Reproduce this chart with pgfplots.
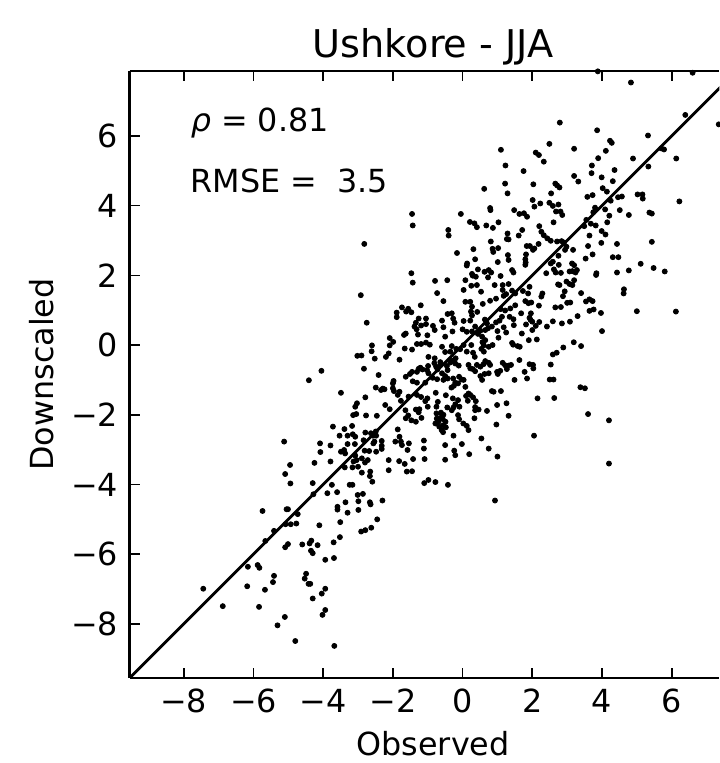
\documentclass[border=0pt]{standalone}
\usepackage{pgfplots}
\pgfplotsset{compat=1.18}
\usepackage{fontspec}
\setmainfont{DejaVu Sans}
\newcommand{\tfont}{\fontsize{15.9pt}{18pt}\selectfont}
\newcommand{\ttfont}{\fontsize{19.1pt}{22pt}\selectfont}
\begin{document}
\begin{tikzpicture}
\begin{axis}[
  at={(0,0)}, anchor=south west,
  scale only axis, width=294.8pt, height=303.4pt,
  xmin=-9.55, xmax=7.37, ymin=-9.55, ymax=7.86,
  every non boxed x axis/.style={},
  every non boxed y axis/.style={},
  axis x line*=box, axis y line*=left,
  axis line style={line width=1.3pt, -},
  x axis line style={-}, y axis line style={-},
  tick align=inside, xtick pos=both, ytick pos=left,
  major tick length=5pt,
  every tick/.style={black, line width=0.8pt},
  xtick={-8,-6,-4,-2,0,2,4,6},
  xticklabels={−8,−6,−4,−2,0,2,4,6},
  ytick={-8,-6,-4,-2,0,2,4,6},
  yticklabels={−8,−6,−4,−2,0,2,4,6},
  xticklabel style={font=\tfont, anchor=base, inner sep=0pt, yshift=-17.3pt},
  yticklabel style={font=\tfont, anchor=east, inner sep=0pt, xshift=-5.6pt},
]
\addplot[only marks, mark=*, mark size=1.25pt, black] table {
x y
1.10 5.60
1.23 5.15
1.22 4.63
0.62 4.48
1.29 4.35
0.79 3.93
0.80 3.87
1.48 3.87
1.63 3.76
-1.45 3.76
-1.43 3.43
-0.05 3.76
-2.82 2.90
0.21 3.53
0.34 3.49
0.41 3.38
0.68 3.43
0.87 3.36
1.03 3.52
-0.41 3.30
-0.40 3.14
1.29 3.20
1.27 3.04
1.32 3.03
1.61 3.14
0.81 2.97
0.86 2.76
0.88 2.67
1.02 2.78
-0.16 2.64
0.31 2.75
1.30 2.58
1.32 2.44
1.01 2.38
0.36 2.46
0.13 2.34
0.12 2.28
0.44 2.17
0.63 2.10
0.75 2.15
0.82 2.08
1.42 2.15
1.46 2.08
0.27 2.04
-1.47 2.06
3.88 7.85
6.60 7.81
4.83 7.53
2.79 6.38
6.39 6.60
7.35 6.33
3.86 6.16
5.32 6.01
4.23 5.86
4.28 5.80
2.49 5.77
3.20 5.63
2.10 5.52
2.19 5.45
4.11 5.57
5.70 5.64
5.78 5.61
2.33 5.26
3.89 5.36
4.89 5.35
6.13 5.35
1.75 4.99
3.71 5.15
5.33 5.12
3.70 4.93
4.36 5.02
3.20 4.85
3.32 4.69
3.99 4.81
4.31 4.70
2.03 4.61
2.66 4.63
2.71 4.58
2.78 4.52
2.54 4.35
4.02 4.50
4.14 4.40
3.58 4.25
3.73 4.30
5.02 4.32
5.16 4.32
5.17 4.20
4.46 4.24
4.57 4.26
4.25 4.14
2.01 4.16
2.06 3.97
2.23 4.06
2.49 4.08
2.59 3.99
2.75 4.03
1.76 3.78
1.85 3.68
2.68 3.83
2.81 3.83
2.86 3.73
3.80 3.94
3.75 3.81
4.51 3.87
4.09 3.89
4.77 3.73
5.36 3.80
5.43 3.77
6.22 4.12
2.61 3.52
3.55 3.59
3.68 3.48
3.82 3.43
4.21 3.71
4.15 3.52
2.20 3.41
2.26 3.25
2.33 3.15
2.43 3.06
2.53 2.99
1.71 3.30
3.49 3.41
3.64 3.14
3.99 3.27
4.10 3.17
2.71 2.97
2.84 2.98
2.91 2.94
2.98 2.82
2.94 2.73
2.18 2.90
1.84 2.84
1.93 2.84
2.06 2.77
2.02 2.73
1.82 2.60
1.80 2.46
1.81 2.37
1.80 2.30
3.98 2.93
4.43 2.90
5.43 2.96
3.17 2.73
3.60 2.84
2.75 2.56
3.73 2.60
4.31 2.52
4.47 2.52
2.59 2.39
2.53 2.34
3.53 2.48
2.62 2.17
2.76 2.30
3.14 2.34
3.20 2.29
3.28 2.15
3.24 2.08
3.15 2.12
3.07 2.11
2.67 2.08
2.82 2.07
2.40 2.06
3.84 2.06
4.43 2.08
4.77 2.14
5.11 2.33
5.48 2.21
5.80 2.11
-1.43 1.79
0.29 1.99
0.38 1.96
1.09 1.98
-2.92 1.43
-0.79 1.84
-0.44 1.86
-0.73 1.49
0.08 1.86
0.25 1.70
0.41 1.72
0.53 1.53
0.73 1.94
0.92 1.72
1.15 1.72
1.32 1.75
1.15 1.58
1.42 1.56
1.51 1.48
0.03 1.58
-0.55 1.26
0.08 1.24
0.22 1.24
0.27 1.10
0.58 1.18
0.79 1.27
0.96 1.33
1.18 1.41
1.25 1.46
1.09 1.03
1.22 0.99
1.37 1.05
1.51 1.14
-1.74 1.08
-1.56 1.04
-1.20 1.14
-1.47 0.94
-1.89 0.93
-1.62 0.96
-1.89 0.80
-2.75 0.64
-1.26 0.76
-1.05 0.76
-0.59 0.70
-0.43 0.89
-0.31 0.91
-0.27 0.76
-0.23 0.64
0.03 0.69
0.27 0.85
0.42 0.95
0.24 0.96
0.22 0.70
0.64 0.73
0.70 0.62
0.96 0.65
1.06 0.70
1.13 0.81
1.35 0.81
1.46 0.74
-1.34 0.64
-1.38 0.53
-1.19 0.56
-1.05 0.60
-0.85 0.55
-0.80 0.43
-1.32 0.45
-1.28 0.30
-1.63 0.33
-1.68 0.29
-0.55 0.51
-0.50 0.24
-0.29 0.39
0.00 0.45
0.12 0.38
0.27 0.39
0.36 0.53
0.44 0.32
0.51 0.41
0.56 0.24
0.65 0.43
0.73 0.48
0.84 0.53
1.00 0.40
1.18 0.51
1.47 0.57
-2.09 0.20
-1.99 0.09
-2.09 -0.01
-2.60 -0.01
-2.61 -0.18
-3.02 -0.31
-2.90 -0.30
-2.83 -0.68
-2.52 -0.39
-2.20 -0.34
-2.12 -0.24
-1.81 -0.42
-1.66 -0.10
-1.45 -0.13
-1.31 0.03
-1.19 0.03
-1.05 0.07
-1.01 0.28
-0.94 0.01
-0.59 -0.05
-0.50 -0.20
-0.35 -0.19
-0.31 -0.03
-0.20 -0.38
-0.18 -0.11
-0.07 -0.12
0.03 0.00
0.25 0.00
0.12 -0.19
0.30 -0.22
0.35 -0.34
0.54 -0.11
0.61 -0.01
0.61 -0.19
0.65 0.14
0.57 0.08
0.75 -0.05
0.86 0.00
1.03 0.21
1.25 0.36
1.42 0.06
1.45 0.01
1.58 -0.03
1.63 -0.43
-0.98 -0.34
-0.80 -0.38
-0.81 -0.52
-0.99 -0.60
-0.76 -0.62
-0.63 -0.57
-0.45 -0.60
-0.64 -0.49
-0.35 -0.50
-0.29 -0.45
-0.21 -0.53
-0.11 -0.59
-0.43 -0.72
-0.50 -0.89
-0.59 -0.81
-0.72 -0.70
-1.02 -0.72
-1.21 -0.65
-1.31 -0.77
-1.26 -0.68
-1.15 -0.70
-1.45 -0.77
-1.51 -0.83
-1.63 -0.91
-1.43 -1.04
-1.31 -1.08
-1.07 -1.08
-0.98 -0.81
-0.86 -0.94
-0.73 -0.98
-0.43 -0.96
-0.55 -1.00
-0.27 -0.96
-0.10 -0.91
-0.02 -0.99
0.03 -1.00
-0.21 -1.08
-0.32 -1.22
-0.25 -1.17
-0.13 -1.10
0.08 -1.20
0.22 -0.67
0.17 -0.57
0.29 -0.69
0.41 -0.57
0.36 -0.75
0.51 -0.62
0.60 -0.55
0.65 -0.46
0.75 -0.51
0.79 -0.57
0.51 -0.89
0.56 -1.00
0.63 -0.83
0.75 -0.81
0.99 -0.77
1.01 -0.83
1.08 -0.74
1.15 -0.51
1.22 -0.58
1.32 -0.59
1.27 -0.69
1.39 -0.57
1.49 -1.00
1.10 -1.32
0.84 -1.32
0.89 -1.34
-2.41 -0.86
-1.98 -1.03
-2.00 -1.10
-2.00 -1.24
-1.97 -1.32
-1.86 -1.43
-1.81 -1.34
-2.29 -1.25
-2.34 -1.29
-2.49 -1.22
-2.24 -1.27
-3.49 -1.37
-2.79 -1.50
-3.03 -1.67
-3.08 -1.77
-3.14 -2.01
-3.05 -1.98
-2.77 -2.02
-2.46 -2.03
-2.22 -1.72
-2.09 -1.84
-1.77 -1.60
-1.55 -1.48
-1.31 -1.43
-1.19 -1.49
-1.07 -1.61
-1.00 -1.77
-1.01 -1.53
-0.77 -1.37
-0.75 -1.77
-0.71 -1.63
-0.48 -1.44
-0.44 -1.79
-0.28 -1.53
-0.21 -1.70
-0.26 -1.79
-0.31 -1.87
-0.13 -1.58
-0.09 -1.77
0.10 -1.46
0.17 -1.39
0.22 -1.43
0.30 -1.50
0.38 -1.61
0.15 -1.60
0.36 -1.78
0.36 -1.87
0.46 -1.85
0.70 -1.89
0.99 -1.72
1.26 -1.67
1.32 -2.03
0.97 -2.28
-1.64 -1.87
-1.56 -2.02
-1.34 -1.85
-1.24 -1.84
-1.26 -1.93
-1.63 -2.10
-1.47 -2.16
-1.34 -2.20
-1.18 -2.09
-0.75 -1.96
-0.62 -1.94
-0.64 -2.09
-0.74 -2.11
-0.78 -2.25
-0.69 -2.20
-0.55 -2.00
-0.57 -2.12
-0.67 -2.34
-0.55 -2.30
-0.60 -2.44
-0.56 -2.50
-0.48 -2.36
-0.49 -2.20
-0.10 -2.13
-0.13 -2.01
0.02 -2.25
0.12 -2.32
0.17 -2.44
0.34 -2.10
-3.72 -2.34
-3.39 -2.41
-3.17 -2.32
-3.53 -2.60
-3.30 -2.60
-3.15 -2.56
-3.08 -2.63
-2.79 -2.51
-2.63 -2.53
-2.49 -2.48
-2.57 -2.60
-2.48 -2.60
-1.86 -2.42
-1.81 -2.63
-1.11 -2.74
-0.50 -2.87
-0.26 -2.60
-0.02 -2.84
0.54 -2.68
0.75 -2.97
-0.24 -3.03
-0.21 -3.16
1.00 -3.20
-3.79 -2.88
-3.09 -2.84
-2.84 -2.73
-2.56 -2.82
-2.53 -2.77
-2.32 -2.75
-2.32 -2.89
-2.32 -2.98
-1.93 -2.77
-1.77 -2.77
-1.74 -2.87
-1.54 -2.82
-1.58 -3.01
-1.11 -2.97
-3.40 -3.01
-3.49 -3.06
-3.37 -3.11
-3.08 -3.17
-2.81 -3.03
-2.68 -3.04
-2.48 -3.06
-2.72 -3.30
-2.89 -3.25
-3.04 -3.30
-3.13 -3.34
-2.80 -3.37
-3.00 -3.49
-2.89 -3.66
-3.79 -3.34
-3.38 -3.51
-3.16 -3.51
-2.12 -3.30
-1.82 -3.33
-1.66 -3.41
-1.60 -3.63
-1.42 -3.27
-1.09 -3.27
-0.50 -3.29
0.19 -3.13
-1.45 -3.62
-2.12 -3.59
-2.65 -3.63
-3.30 -2.84
3.83 2.01
1.92 1.67
1.73 1.55
1.88 1.48
2.29 1.48
2.26 1.39
2.93 1.54
2.74 1.74
2.78 1.72
2.98 1.82
3.07 1.75
3.15 1.72
3.20 1.86
2.88 1.40
3.40 1.49
4.63 1.60
4.62 1.48
1.80 1.26
1.89 1.20
1.97 1.22
2.19 1.13
2.66 1.08
2.82 1.09
3.00 1.21
3.09 1.22
3.54 1.25
3.64 1.31
3.73 1.26
3.64 0.98
3.76 1.02
3.97 0.92
5.00 0.97
6.12 0.96
1.68 0.91
1.96 0.91
1.92 0.78
1.95 0.72
2.00 0.67
1.82 0.59
2.10 0.55
2.00 0.43
2.20 0.66
2.42 0.53
2.59 0.68
2.85 0.62
3.08 0.67
3.30 0.83
4.00 0.40
1.70 0.33
1.90 0.14
2.13 0.16
1.64 -0.05
3.19 0.08
3.40 -0.03
2.89 -0.07
2.59 -0.27
2.70 -0.22
2.53 -0.56
1.92 -0.55
2.02 -0.57
2.03 -0.67
1.78 -0.77
1.85 -0.96
2.50 -0.99
2.61 -0.99
3.38 -1.21
3.51 -1.24
2.15 -1.53
2.63 -1.52
3.60 -1.98
4.20 -2.16
2.05 -2.60
4.20 -3.40
-4.05 -0.74
-4.41 -1.01
-5.12 -2.77
-4.09 -2.82
-4.08 -3.07
-4.25 -3.38
-4.95 -3.44
-5.09 -3.70
-4.94 -3.97
-4.30 -3.96
-4.28 -4.28
-3.88 -4.25
-5.74 -4.76
-5.05 -4.71
-5.01 -4.71
-4.73 -4.85
-5.08 -5.14
-4.93 -5.14
-4.77 -5.12
-4.11 -5.17
-5.41 -5.33
-5.66 -5.62
-5.09 -5.80
-5.01 -5.71
-4.60 -5.72
-4.39 -5.69
-4.34 -5.61
-4.16 -5.74
-4.35 -5.90
-4.30 -5.97
-3.94 -6.16
-6.16 -6.36
-5.88 -6.31
-5.83 -6.39
-5.41 -6.62
-5.44 -6.80
-4.49 -6.56
-4.53 -6.70
-4.42 -6.85
-4.37 -6.85
-7.44 -6.99
-6.18 -6.92
-5.67 -7.02
-4.30 -7.27
-4.04 -7.13
-3.94 -6.99
-6.88 -7.49
-5.84 -7.51
-3.94 -7.60
-4.02 -7.74
-5.10 -7.80
-5.31 -8.04
-4.80 -8.49
-5.47 -9.56
-2.66 -3.76
-2.59 -3.92
-3.75 -4.01
-3.24 -4.01
-3.16 -4.01
-3.60 -4.22
-1.10 -3.96
-0.98 -3.87
-0.78 -3.93
-0.42 -4.01
0.93 -4.46
-3.36 -4.51
-3.59 -4.64
-3.59 -4.72
-2.99 -4.48
-3.01 -4.30
-2.86 -4.27
-2.66 -4.51
-2.64 -4.57
-2.30 -4.46
-3.30 -4.81
-2.99 -4.73
-3.51 -5.08
-2.45 -5.00
-2.91 -5.35
-2.79 -5.31
-2.62 -5.24
-3.52 -5.51
-3.70 -5.66
-3.69 -6.11
-3.68 -8.63
};
\addplot[black, line width=1.4pt] coordinates {(-9.55,-9.55) (7.86,7.86)};
\node[anchor=base west, inner sep=0pt, font=\tfont] at (axis cs:-7.81,6.12) {{\itshape ρ} = 0.81};
\node[anchor=base west, inner sep=0pt, font=\tfont] at (axis cs:-7.81,4.38) {RMSE =\ \ 3.5};
\coordinate (tt) at (axis cs:-0.845,7.86);
\coordinate (xl) at (axis cs:-0.845,-9.55);
\coordinate (yl) at (axis cs:-9.55,-0.845);
\coordinate (sw) at (rel axis cs:0,0);
\coordinate (ne) at (rel axis cs:1,1);
\end{axis}
\node[anchor=base, inner sep=0pt, font=\ttfont] at ([yshift=7pt]tt) {Ushkore - JJA};
\node[anchor=base, inner sep=0pt, font=\tfont] at ([yshift=-38.5pt]xl) {Observed};
\node[anchor=base, inner sep=0pt, font=\tfont, rotate=90] at ([xshift=-38.2pt]yl) {Downscaled};
\pgfresetboundingbox
\path[use as bounding box] ([xshift=-64.85pt,yshift=-42.5pt]sw) rectangle ([yshift=35.5pt]ne);
\end{tikzpicture}
\end{document}
